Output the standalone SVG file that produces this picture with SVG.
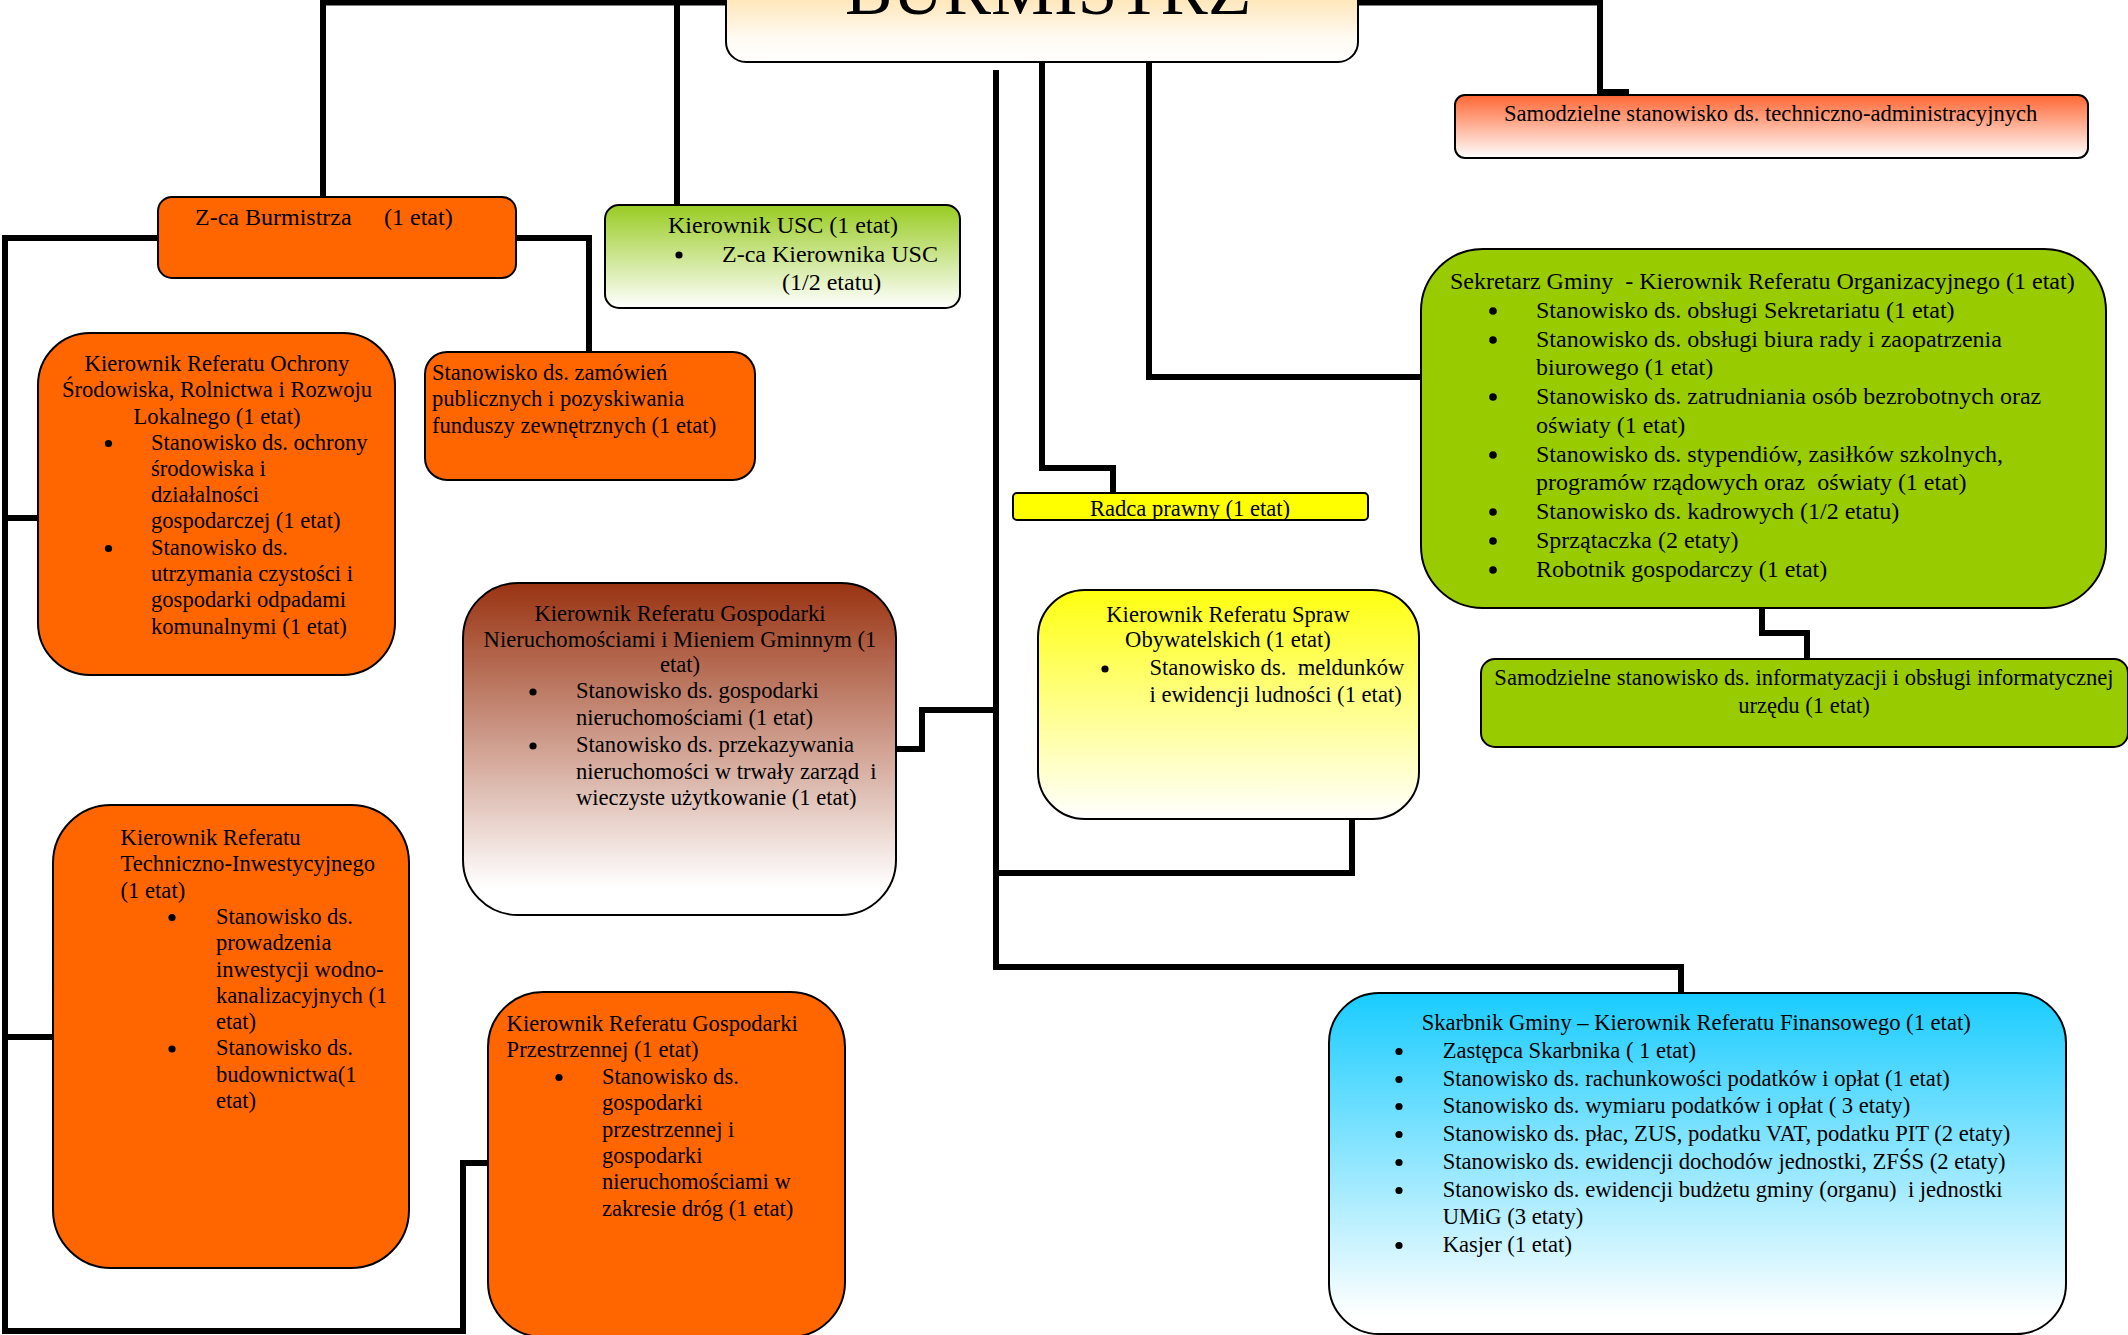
<svg xmlns="http://www.w3.org/2000/svg" width="2128" height="1335" viewBox="0 0 2128 1335">
<defs>
<linearGradient id="gBurm" x1="0" y1="0" x2="0" y2="1"><stop offset="0" stop-color="#FFD890"/><stop offset="0.75" stop-color="#FFFBF3"/><stop offset="1" stop-color="#FFFFFF"/></linearGradient>
<linearGradient id="gUsc" x1="0" y1="0" x2="0" y2="1"><stop offset="0" stop-color="#99CC22"/><stop offset="1" stop-color="#FFFFFF"/></linearGradient>
<linearGradient id="gTech" x1="0" y1="0" x2="0" y2="1"><stop offset="0" stop-color="#FF6633"/><stop offset="1" stop-color="#FFFFFF"/></linearGradient>
<linearGradient id="gBrown" x1="0" y1="0" x2="0" y2="1"><stop offset="0" stop-color="#993311"/><stop offset="0.92" stop-color="#FFFFFF"/></linearGradient>
<linearGradient id="gYel" x1="0" y1="0" x2="0" y2="1"><stop offset="0" stop-color="#FFFF10"/><stop offset="1" stop-color="#FFFFFF"/></linearGradient>
<linearGradient id="gCyan" x1="0" y1="0" x2="0" y2="1"><stop offset="0" stop-color="#19CCFF"/><stop offset="0.95" stop-color="#FFFFFF"/></linearGradient>
</defs>
<style>
.c{fill:none;stroke:#000;stroke-width:6;stroke-linejoin:miter}
.bx{stroke:#000;stroke-width:2}
.or{fill:#FF6600}
.gr{fill:#99CC00}
text{font-family:"Liberation Serif","Times New Roman",serif;fill:#000;font-size:22.6px;white-space:pre}
.t24{font-size:24px}
.m{text-anchor:middle}
.b{fill:#000}
</style>
<rect width="2128" height="1335" fill="#FFFFFF"/>
<g id="connectors">
<path class="c" d="M323,198 V2.5 H740"/>
<path class="c" d="M677,205 V2.5"/>
<path class="c" d="M1340,2.5 H1600 V92 H1626 V96"/>
<path class="c" d="M996,70 V967 H1681 V994"/>
<path class="c" d="M1042,61 V468 H1113 V494"/>
<path class="c" d="M1149,61 V377 H1423"/>
<path class="c" d="M996,710 H922 V749 H896"/>
<path class="c" d="M1352,819 V873 H996"/>
<path class="c" d="M1762,608 V633 H1807 V660"/>
<path class="c" d="M160,238 H5 V1331 H463 V1163 H490"/>
<path class="c" d="M5,518 H40"/>
<path class="c" d="M5,1037 H55"/>
<path class="c" d="M514,238 H589 V354"/>
</g>
<g id="burmistrz">
<rect class="bx" x="726" y="-30" width="632" height="92" rx="20" fill="url(#gBurm)"/>
<text x="845" y="13.5" style="font-size:71px">BURMISTRZ</text>
</g>
<g id="zca-burmistrza">
<rect class="bx or" x="158" y="197" width="358" height="81" rx="14"/>
<text class="t24" y="225"><tspan x="195">Z-ca Burmistrza</tspan><tspan x="384">(1 etat)</tspan></text>
</g>
<g id="kierownik-usc">
<rect class="bx" x="605" y="205" width="355" height="103" rx="14" fill="url(#gUsc)"/>
<text class="t24" x="668" y="233">Kierownik USC (1 etat)</text>
<circle class="b" cx="679" cy="255" r="3.6"/>
<text class="t24" x="722" y="262">Z-ca Kierownika USC</text>
<text class="t24" x="782" y="290">(1/2 etatu)</text>
</g>
<g id="samodzielne-techniczno">
<rect class="bx" x="1455" y="95" width="633" height="63" rx="10" fill="url(#gTech)"/>
<text x="1504" y="121">Samodzielne stanowisko ds. techniczno-administracyjnych</text>
</g>
<g id="ochrony">
<rect class="bx or" x="38" y="333" width="357" height="342" rx="52"/>
<text class="m" x="217" y="371">Kierownik Referatu Ochrony</text>
<text class="m" x="217" y="397">Środowiska, Rolnictwa i Rozwoju</text>
<text class="m" x="217" y="423.5">Lokalnego (1 etat)</text>
<circle class="b" cx="108.5" cy="443.5" r="3.6"/>
<text x="151" y="450">Stanowisko ds. ochrony</text>
<text x="151" y="476">środowiska i</text>
<text x="151" y="502">działalności</text>
<text x="151" y="528">gospodarczej (1 etat)</text>
<circle class="b" cx="108.5" cy="548.5" r="3.6"/>
<text x="151" y="555">Stanowisko ds.</text>
<text x="151" y="581">utrzymania czystości i</text>
<text x="151" y="607">gospodarki odpadami</text>
<text x="151" y="633.5">komunalnymi (1 etat)</text>
</g>
<g id="zamowienia">
<rect class="bx or" x="425" y="352" width="330" height="128" rx="22"/>
<text x="432" y="380">Stanowisko ds. zamówień</text>
<text x="432" y="406">publicznych i pozyskiwania</text>
<text x="432" y="433">funduszy zewnętrznych (1 etat)</text>
</g>
<g id="radca-prawny">
<rect class="bx" x="1013" y="493" width="355" height="27" rx="4" fill="#FFFF00"/>
<text class="m" x="1190" y="516">Radca prawny (1 etat)</text>
</g>
<g id="sekretarz">
<rect class="bx gr" x="1421" y="249" width="685" height="359" rx="62"/>
<text class="t24" x="1450" y="289">Sekretarz Gminy  - Kierownik Referatu Organizacyjnego (1 etat)</text>
<circle class="b" cx="1493" cy="311" r="3.8"/>
<text class="t24" x="1536" y="318">Stanowisko ds. obsługi Sekretariatu (1 etat)</text>
<circle class="b" cx="1493" cy="340" r="3.8"/>
<text class="t24" x="1536" y="347">Stanowisko ds. obsługi biura rady i zaopatrzenia</text>
<text class="t24" x="1536" y="375">biurowego (1 etat)</text>
<circle class="b" cx="1493" cy="397" r="3.8"/>
<text class="t24" x="1536" y="404">Stanowisko ds. zatrudniania osób bezrobotnych oraz</text>
<text class="t24" x="1536" y="433">oświaty (1 etat)</text>
<circle class="b" cx="1493" cy="455" r="3.8"/>
<text class="t24" x="1536" y="462">Stanowisko ds. stypendiów, zasiłków szkolnych,</text>
<text class="t24" x="1536" y="490">programów rządowych oraz  oświaty (1 etat)</text>
<circle class="b" cx="1493" cy="512" r="3.8"/>
<text class="t24" x="1536" y="519">Stanowisko ds. kadrowych (1/2 etatu)</text>
<circle class="b" cx="1493" cy="541" r="3.8"/>
<text class="t24" x="1536" y="548">Sprzątaczka (2 etaty)</text>
<circle class="b" cx="1493" cy="570" r="3.8"/>
<text class="t24" x="1536" y="577">Robotnik gospodarczy (1 etat)</text>
</g>
<g id="gospodarka-nieruchomosciami">
<rect class="bx" x="463" y="583" width="433" height="332" rx="55" fill="url(#gBrown)"/>
<text class="m" x="680" y="621">Kierownik Referatu Gospodarki</text>
<text class="m" x="680" y="646.5">Nieruchomościami i Mieniem Gminnym (1</text>
<text class="m" x="680" y="672">etat)</text>
<circle class="b" cx="533" cy="692" r="3.6"/>
<text x="576" y="698">Stanowisko ds. gospodarki</text>
<text x="576" y="725">nieruchomościami (1 etat)</text>
<circle class="b" cx="533" cy="746" r="3.6"/>
<text x="576" y="752">Stanowisko ds. przekazywania</text>
<text x="576" y="779">nieruchomości w trwały zarząd  i</text>
<text x="576" y="805">wieczyste użytkowanie (1 etat)</text>
</g>
<g id="sprawy-obywatelskie">
<rect class="bx" x="1038" y="590" width="381" height="229" rx="47" fill="url(#gYel)"/>
<text class="m" x="1228" y="622">Kierownik Referatu Spraw</text>
<text class="m" x="1228" y="647">Obywatelskich (1 etat)</text>
<circle class="b" cx="1105" cy="669" r="3.6"/>
<text x="1149.5" y="675">Stanowisko ds.  meldunków</text>
<text x="1149.5" y="702">i ewidencji ludności (1 etat)</text>
</g>
<g id="informatyzacja">
<rect class="bx gr" x="1481" y="659" width="647" height="88" rx="14"/>
<text class="m" x="1804" y="685">Samodzielne stanowisko ds. informatyzacji i obsługi informatycznej</text>
<text class="m" x="1804" y="713">urzędu (1 etat)</text>
</g>
<g id="techniczno-inwestycyjny">
<rect class="bx or" x="53" y="805" width="356" height="463" rx="58"/>
<text x="120.6" y="845">Kierownik Referatu</text>
<text x="120.6" y="871.3">Techniczno-Inwestycyjnego</text>
<text x="120.6" y="897.6">(1 etat)</text>
<circle class="b" cx="172" cy="917.5" r="3.6"/>
<text x="216" y="923.9">Stanowisko ds.</text>
<text x="216" y="950.2">prowadzenia</text>
<text x="216" y="976.5">inwestycji wodno-</text>
<text x="216" y="1002.8">kanalizacyjnych (1</text>
<text x="216" y="1029.1">etat)</text>
<circle class="b" cx="172" cy="1049" r="3.6"/>
<text x="216" y="1055.4">Stanowisko ds.</text>
<text x="216" y="1081.7">budownictwa(1</text>
<text x="216" y="1108">etat)</text>
</g>
<g id="gospodarka-przestrzenna">
<rect class="bx or" x="488" y="992" width="357" height="345" rx="55"/>
<text x="506.6" y="1031">Kierownik Referatu Gospodarki</text>
<text x="506.6" y="1057">Przestrzennej (1 etat)</text>
<circle class="b" cx="559" cy="1077.5" r="3.6"/>
<text x="602" y="1084">Stanowisko ds.</text>
<text x="602" y="1110">gospodarki</text>
<text x="602" y="1137">przestrzennej i</text>
<text x="602" y="1163">gospodarki</text>
<text x="602" y="1189">nieruchomościami w</text>
<text x="602" y="1216">zakresie dróg (1 etat)</text>
</g>
<g id="skarbnik">
<rect class="bx" x="1329" y="993" width="737" height="341" rx="50" fill="url(#gCyan)"/>
<text x="1421.7" y="1030">Skarbnik Gminy – Kierownik Referatu Finansowego (1 etat)</text>
<circle class="b" cx="1399" cy="1051.5" r="3.6"/>
<text x="1442.7" y="1058">Zastępca Skarbnika ( 1 etat)</text>
<circle class="b" cx="1399" cy="1079.5" r="3.6"/>
<text x="1442.7" y="1086">Stanowisko ds. rachunkowości podatków i opłat (1 etat)</text>
<circle class="b" cx="1399" cy="1106.5" r="3.6"/>
<text x="1442.7" y="1113">Stanowisko ds. wymiaru podatków i opłat ( 3 etaty)</text>
<circle class="b" cx="1399" cy="1134.5" r="3.6"/>
<text x="1442.7" y="1141">Stanowisko ds. płac, ZUS, podatku VAT, podatku PIT (2 etaty)</text>
<circle class="b" cx="1399" cy="1162.5" r="3.6"/>
<text x="1442.7" y="1169">Stanowisko ds. ewidencji dochodów jednostki, ZFŚS (2 etaty)</text>
<circle class="b" cx="1399" cy="1190.5" r="3.6"/>
<text x="1442.7" y="1197">Stanowisko ds. ewidencji budżetu gminy (organu)  i jednostki</text>
<text x="1442.7" y="1224">UMiG (3 etaty)</text>
<circle class="b" cx="1399" cy="1245.5" r="3.6"/>
<text x="1442.7" y="1252">Kasjer (1 etat)</text>
</g>
</svg>
